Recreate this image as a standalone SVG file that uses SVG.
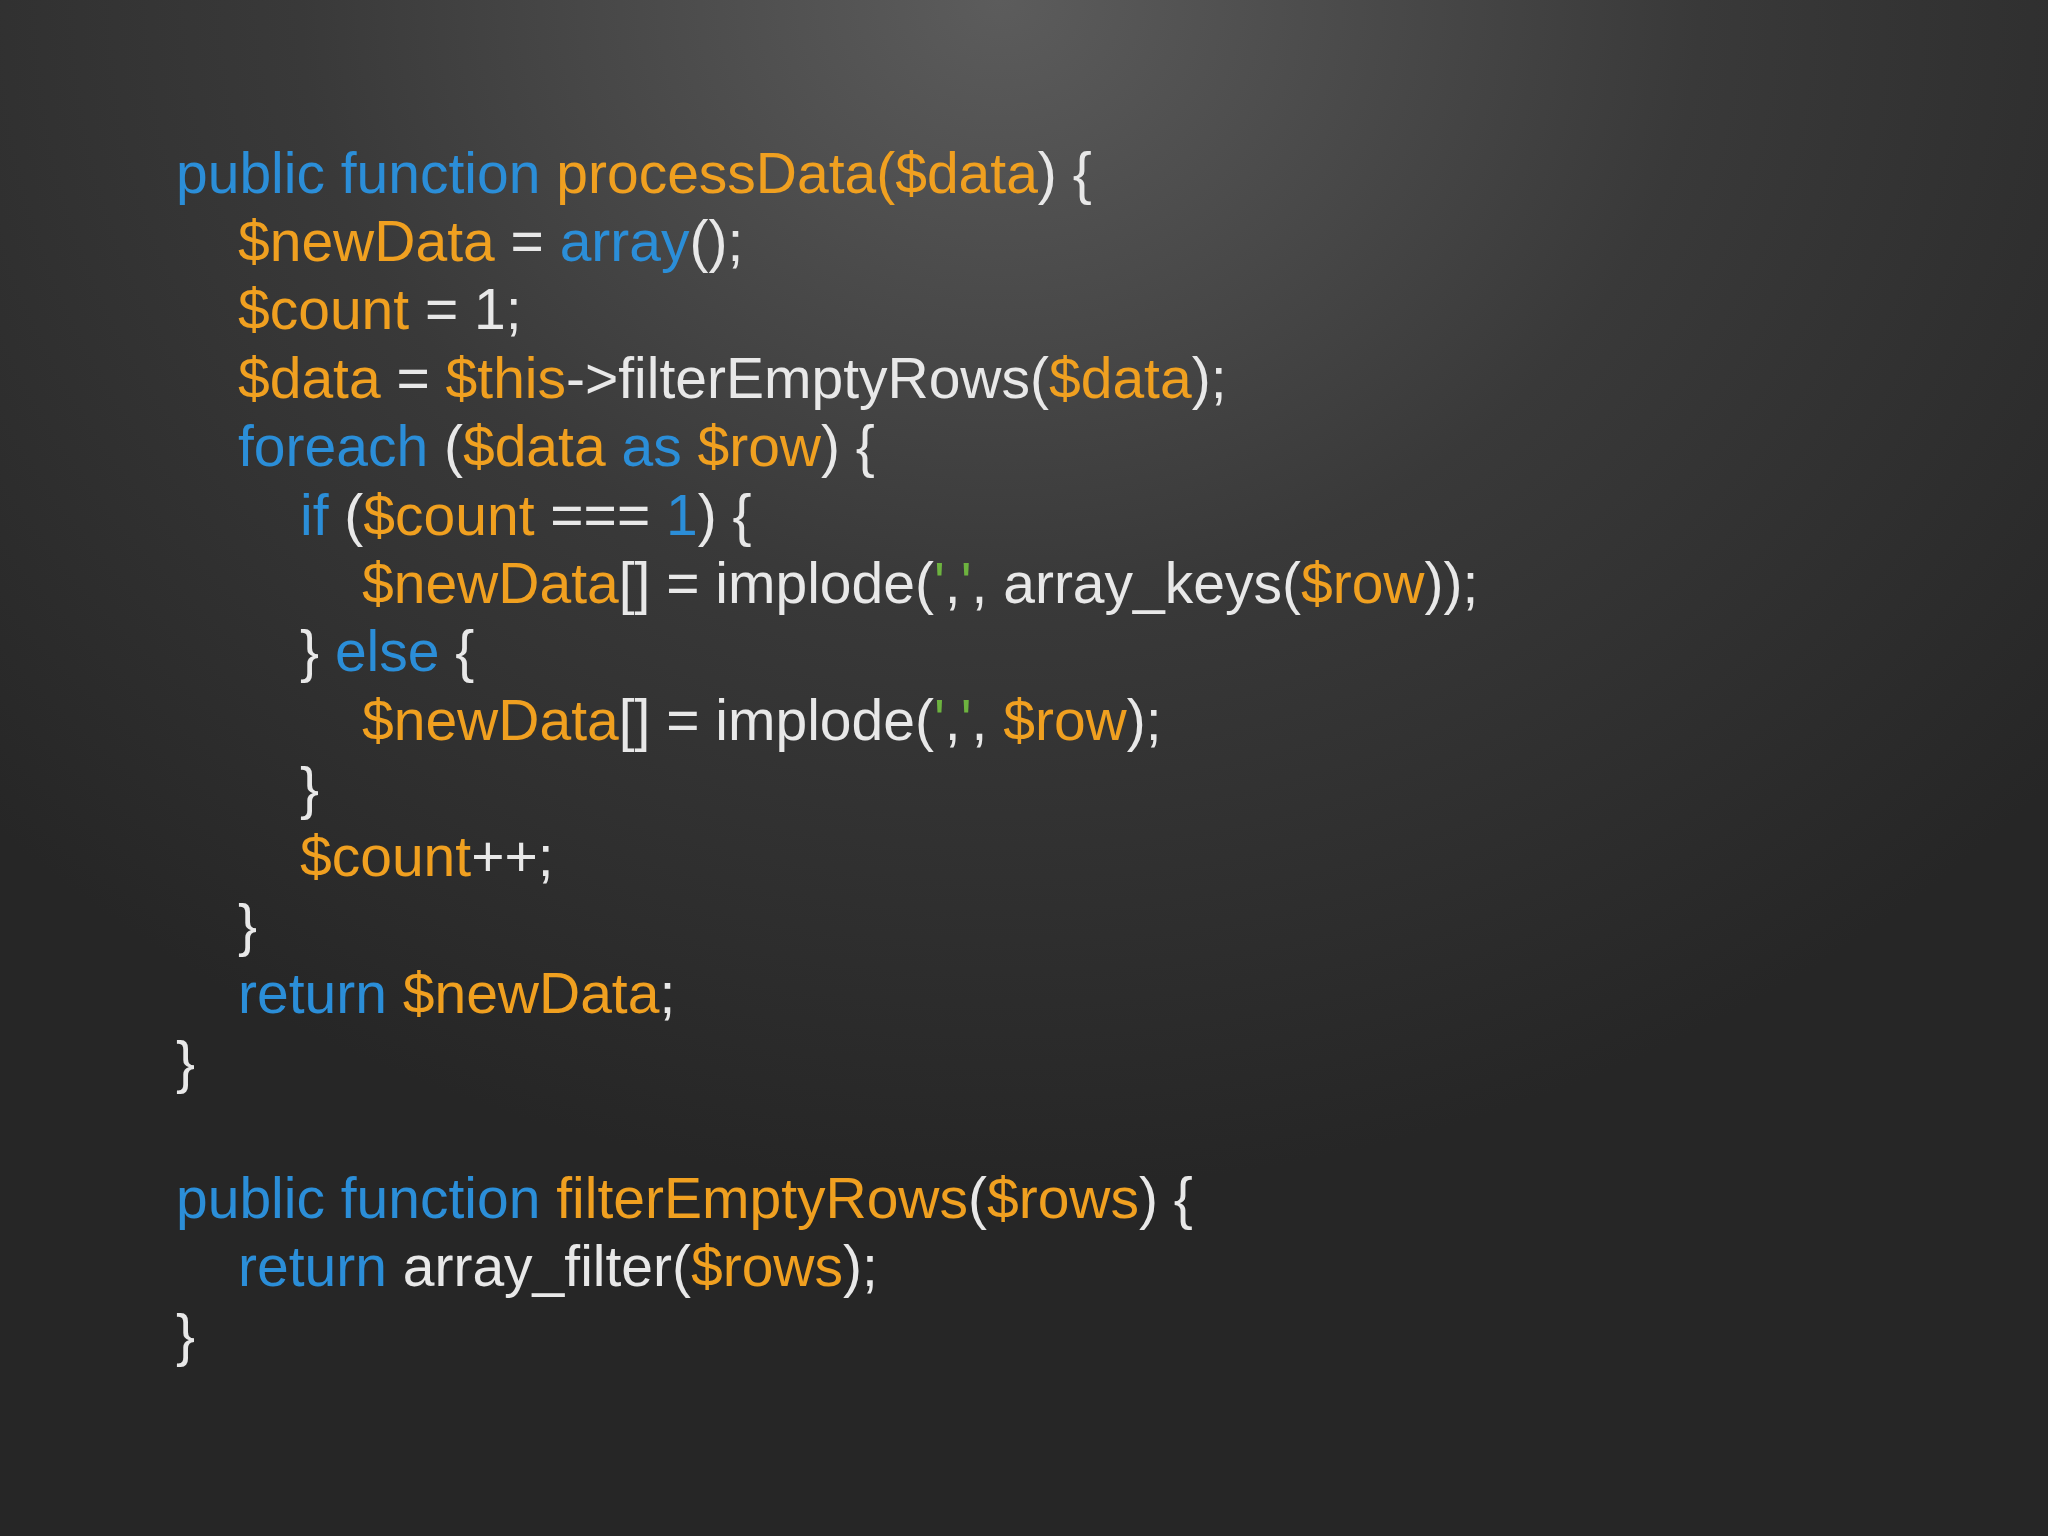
<svg xmlns="http://www.w3.org/2000/svg" width="2048" height="1536" viewBox="0 0 2048 1536">
<defs>
<radialGradient id="bg" gradientUnits="userSpaceOnUse" cx="1000" cy="0" r="1400" fx="1000" fy="0" gradientTransform="translate(1000 0) scale(1 0.85) translate(-1000 0)">
<stop offset="0" stop-color="#5c5c5c"/>
<stop offset="0.5" stop-color="#393939"/>
<stop offset="1" stop-color="#262626"/>
</radialGradient>
<style>
text{font-family:"Liberation Sans",Arial,sans-serif;font-size:57px;fill:#e8e8e8;white-space:pre}
.k{fill:#2b8ed8}.v{fill:#f0a020}.s{fill:#6db33f}
</style>
</defs>
<rect width="2048" height="1536" fill="url(#bg)"/>
<g id="code">
<text x="176" y="193"><tspan class="k">public function </tspan><tspan class="v">processData($data</tspan>) {</text>
<text x="238" y="261"><tspan class="v">$newData</tspan> = <tspan class="k">array</tspan>();</text>
<text x="238" y="329"><tspan class="v">$count</tspan> = 1;</text>
<text x="238" y="398"><tspan class="v">$data</tspan> = <tspan class="v">$this</tspan>-&gt;filterEmptyRows(<tspan class="v">$data</tspan>);</text>
<text x="238" y="466"><tspan class="k">foreach</tspan> (<tspan class="v">$data </tspan><tspan class="k">as</tspan><tspan class="v"> $row</tspan>) {</text>
<text x="300" y="535"><tspan class="k">if</tspan> (<tspan class="v">$count</tspan> === <tspan class="k">1</tspan>) {</text>
<text x="362" y="603"><tspan class="v">$newData</tspan>[] = implode(<tspan class="s">'</tspan>,<tspan class="s">'</tspan>, array_keys(<tspan class="v">$row</tspan>));</text>
<text x="300" y="671">} <tspan class="k">else</tspan> {</text>
<text x="362" y="740"><tspan class="v">$newData</tspan>[] = implode(<tspan class="s">'</tspan>,<tspan class="s">'</tspan>, <tspan class="v">$row</tspan>);</text>
<text x="300" y="808">}</text>
<text x="300" y="876"><tspan class="v">$count</tspan>++;</text>
<text x="238" y="945">}</text>
<text x="238" y="1013"><tspan class="k">return</tspan><tspan class="v"> $newData</tspan>;</text>
<text x="176" y="1082">}</text>
<text x="176" y="1218"><tspan class="k">public function </tspan><tspan class="v">filterEmptyRows</tspan>(<tspan class="v">$rows</tspan>) {</text>
<text x="238" y="1286"><tspan class="k">return</tspan> array_filter(<tspan class="v">$rows</tspan>);</text>
<text x="176" y="1355">}</text>
</g>
</svg>
